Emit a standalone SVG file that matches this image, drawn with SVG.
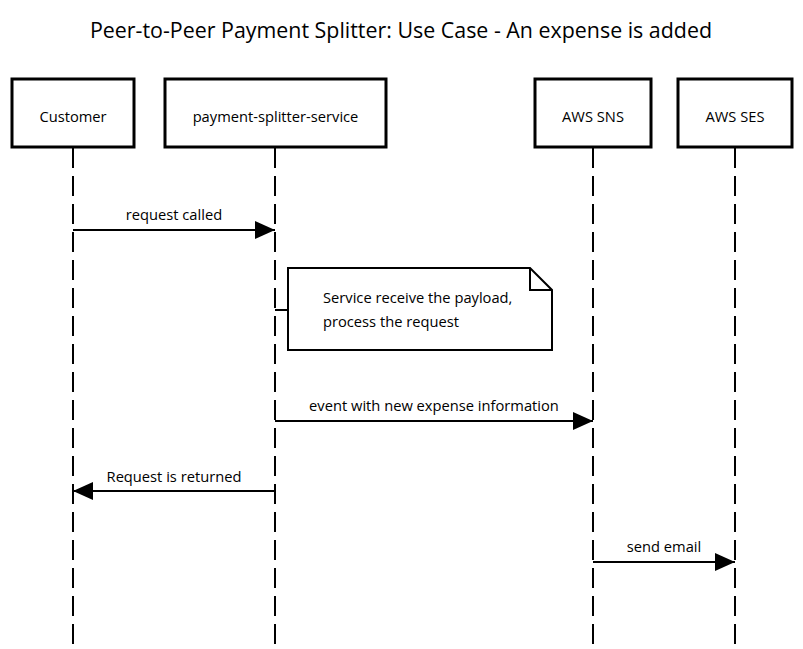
<svg xmlns="http://www.w3.org/2000/svg" width="803" height="649" viewBox="0 0 803 649">
<defs>
<style>
text{font-family:"Open Sans","Noto Sans","DejaVu Sans",sans-serif;fill:#000}
.actor rect{fill:#fff;stroke:#000;stroke-width:3}
.actor text{font-size:14.7px;text-anchor:middle}
.life{stroke:#000;stroke-width:2;stroke-dasharray:20 8;fill:none}
.msg{stroke:#000;stroke-width:2;fill:none}
.lbl{font-size:14.7px;text-anchor:middle}
.title{font-size:21.4px;text-anchor:middle}
</style>
<marker id="arr" viewBox="0 0 20 18" refX="20" refY="9" markerWidth="20" markerHeight="18" markerUnits="userSpaceOnUse" orient="auto">
<path d="M0,0 L20,9 L0,18 Z" fill="#000"/>
</marker>
</defs>
<rect width="803" height="649" fill="#fff"/>
<text class="title" x="401" y="38">Peer-to-Peer Payment Splitter: Use Case - An expense is added</text>
<g id="lifelines">
<line class="life" x1="73" y1="148" x2="73" y2="649"/>
<line class="life" x1="275" y1="148" x2="275" y2="649"/>
<line class="life" x1="593" y1="148" x2="593" y2="649"/>
<line class="life" x1="735" y1="148" x2="735" y2="649"/>
</g>
<g id="customer" class="actor"><rect x="12" y="79" width="122" height="68"/><text x="73" y="122">Customer</text></g>
<g id="service" class="actor"><rect x="165" y="79" width="221" height="68"/><text x="275.5" y="122">payment-splitter-service</text></g>
<g id="sns" class="actor"><rect x="535" y="79" width="116" height="68"/><text x="593" y="122">AWS SNS</text></g>
<g id="ses" class="actor"><rect x="678" y="79" width="114" height="68"/><text x="735" y="122">AWS SES</text></g>
<g id="note">
<path d="M288,268 L530,268 L552,290 L552,350 L288,350 Z" fill="#fff" stroke="#000" stroke-width="2"/>
<path d="M530,268 L530,290 L552,290" fill="none" stroke="#000" stroke-width="2"/>
<text x="323" y="303" font-size="14.7">Service receive the payload,</text>
<text x="323" y="327" font-size="14.7">process the request</text>
</g>
<g id="connectors">
<line class="msg" x1="73" y1="230" x2="275" y2="230" marker-end="url(#arr)"/>
<text class="lbl" x="174" y="220">request called</text>
<line class="msg" x1="275" y1="310" x2="288" y2="310"/>
<line class="msg" x1="275" y1="421" x2="593" y2="421" marker-end="url(#arr)"/>
<text class="lbl" x="434" y="411">event with new expense information</text>
<line class="msg" x1="275" y1="491" x2="73" y2="491" marker-end="url(#arr)"/>
<text class="lbl" x="174" y="482">Request is returned</text>
<line class="msg" x1="593" y1="562" x2="735" y2="562" marker-end="url(#arr)"/>
<text class="lbl" x="664" y="552">send email</text>
</g>
</svg>
